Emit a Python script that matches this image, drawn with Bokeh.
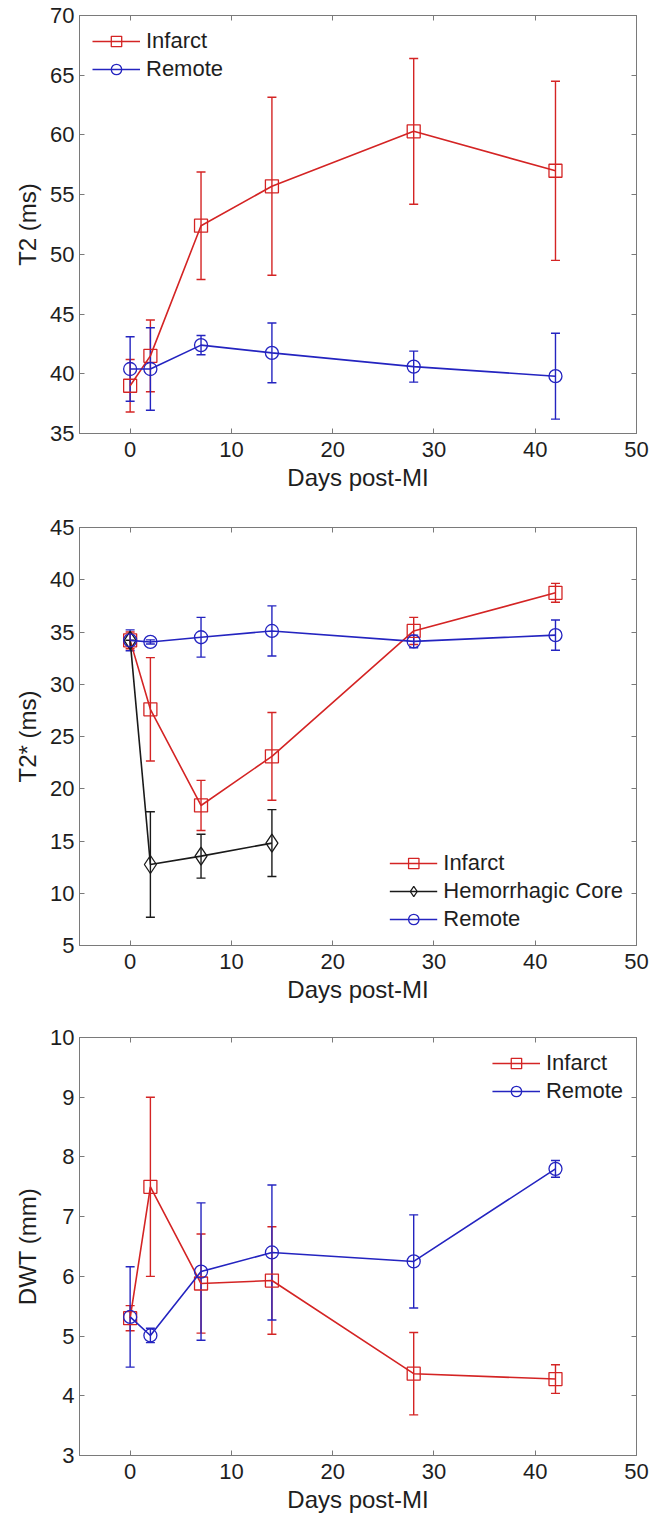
from bokeh.plotting import figure
from bokeh.models import (ColumnDataSource, Whisker, TeeHead, LinearAxis, FixedTicker,
                          Range1d, Legend, LegendItem)
from bokeh.layouts import column
from bokeh.embed import file_html
from bokeh.resources import INLINE

# ---------------- data ----------------
days = [0, 2, 7, 14, 28, 42]
days_core = [0, 2, 7, 14]
x_ticks = [0, 10, 20, 30, 40, 50]

# Panel 1: T2 (ms)
t2_infarct = [39.0, 41.5, 52.4, 55.7, 60.3, 57.0]
t2_infarct_sd = [2.2, 3.0, 4.5, 7.45, 6.1, 7.5]
t2_remote = [40.4, 40.4, 42.4, 41.75, 40.6, 39.8]
t2_remote_sd = [2.7, 3.45, 0.8, 2.5, 1.3, 3.6]
t2_ticks = [35, 40, 45, 50, 55, 60, 65, 70]

# Panel 2: T2* (ms)
t2s_infarct = [34.2, 27.6, 18.4, 23.1, 35.1, 38.75]
t2s_infarct_sd = [0.8, 4.95, 2.4, 4.2, 1.3, 0.9]
t2s_core = [34.2, 12.75, 13.55, 14.8]
t2s_core_sd = [0.0, 5.05, 2.1, 3.2]
t2s_remote = [34.2, 34.05, 34.5, 35.1, 34.1, 34.7]
t2s_remote_sd = [1.0, 0.2, 1.9, 2.4, 0.6, 1.45]
t2s_ticks = [5, 10, 15, 20, 25, 30, 35, 40, 45]

# Panel 3: DWT (mm)
dwt_infarct = [5.3, 7.5, 5.88, 5.93, 4.37, 4.28]
dwt_infarct_sd = [0.21, 1.5, 0.83, 0.9, 0.69, 0.24]
dwt_remote = [5.32, 5.01, 6.08, 6.4, 6.25, 7.8]
dwt_remote_sd = [0.84, 0.12, 1.15, 1.13, 0.78, 0.14]
dwt_ticks = [3, 4, 5, 6, 7, 8, 9, 10]

# ---------------- style ----------------
RED = "#d42424"
BLUE = "#2424c0"
BLACK = "#1a1a1a"
GRAY = "#7a7a7a"
TXT = "#1e1e1e"
FONT = "Liberation Sans"
TICK_FS = "22px"
TITLE_FS = "24px"
LEG_FS = "22px"


def style_axis(ax, ticks, show_labels=True):
    ax.ticker = FixedTicker(ticks=ticks)
    ax.major_tick_in = 5
    ax.major_tick_out = 0
    ax.minor_tick_in = 0
    ax.minor_tick_out = 0
    ax.axis_line_color = GRAY
    ax.major_tick_line_color = GRAY
    ax.major_label_text_font = FONT
    ax.axis_label_text_font = FONT
    ax.axis_label_text_font_style = "normal"
    ax.axis_label_text_font_size = TITLE_FS
    ax.axis_label_text_color = TXT
    if show_labels:
        ax.major_label_text_font_size = TICK_FS
        ax.major_label_text_color = TXT
    else:
        ax.major_label_text_font_size = "6px"
        ax.major_label_text_color = None
        ax.major_label_standoff = 0


def make_panel(ylabel, ylo, yhi, yticks, series, legend_loc, height, b_top, b_bottom):
    p = figure(width=652, height=height, x_range=Range1d(-5, 50), y_range=Range1d(ylo, yhi),
               output_backend="svg", toolbar_location=None,
               min_border_left=79, min_border_right=16,
               min_border_top=b_top, min_border_bottom=b_bottom,
               background_fill_color="white", border_fill_color="white")
    p.grid.visible = False
    p.outline_line_color = GRAY
    p.outline_line_width = 1

    p.xaxis.axis_label = "Days post-MI"
    p.yaxis.axis_label = ylabel
    style_axis(p.xaxis[0], x_ticks)
    style_axis(p.yaxis[0], yticks)
    p.xaxis.major_label_standoff = 8
    p.xaxis.axis_label_standoff = 4
    p.yaxis.major_label_standoff = 5
    p.yaxis.axis_label_standoff = 6

    top_ax = LinearAxis()
    style_axis(top_ax, x_ticks, show_labels=False)
    p.add_layout(top_ax, "above")
    right_ax = LinearAxis()
    style_axis(right_ax, yticks, show_labels=False)
    p.add_layout(right_ax, "right")

    items = []
    for name, xs, means, sds, color, marker in series:
        src = ColumnDataSource(dict(
            x=xs, y=means,
            upper=[m + s for m, s in zip(means, sds)],
            lower=[m - s for m, s in zip(means, sds)],
        ))
        w = Whisker(base="x", upper="upper", lower="lower", source=src,
                    line_color=color, line_width=1.4,
                    upper_head=TeeHead(size=9, line_color=color, line_width=1.4),
                    lower_head=TeeHead(size=9, line_color=color, line_width=1.4))
        p.add_layout(w)
        ln = p.line("x", "y", source=src, line_color=color, line_width=1.6)
        sc = p.scatter("x", "y", source=src, marker=marker, size=13 if marker != "diamond" else 18,
                       line_color=color, line_width=1.3, fill_color=None)
        items.append(LegendItem(label=name, renderers=[ln, sc]))

    leg = Legend(items=items, location=legend_loc, margin=6, padding=7,
                 glyph_width=48, glyph_height=26, label_standoff=6, spacing=2,
                 label_text_font=FONT, label_text_font_size=LEG_FS, label_text_color=TXT,
                 background_fill_alpha=0, border_line_alpha=0)
    p.add_layout(leg)
    return p


p1 = make_panel("T2 (ms)", 35, 70, t2_ticks, [
    ("Infarct", days, t2_infarct, t2_infarct_sd, RED, "square"),
    ("Remote", days, t2_remote, t2_remote_sd, BLUE, "circle"),
], "top_left", 510, 15, 77)

p2 = make_panel("T2* (ms)", 5, 45, t2s_ticks, [
    ("Infarct", days, t2s_infarct, t2s_infarct_sd, RED, "square"),
    ("Hemorrhagic Core", days_core, t2s_core, t2s_core_sd, BLACK, "diamond"),
    ("Remote", days, t2s_remote, t2s_remote_sd, BLUE, "circle"),
], "bottom_right", 508, 17, 73)

p3 = make_panel("DWT (mm)", 3, 10, dwt_ticks, [
    ("Infarct", days, dwt_infarct, dwt_infarct_sd, RED, "square"),
    ("Remote", days, dwt_remote, dwt_remote_sd, BLUE, "circle"),
], "top_right", 502, 19, 65)

layout = column(p1, p2, p3, spacing=0)
open("out.html", "w").write(file_html(layout, INLINE))
